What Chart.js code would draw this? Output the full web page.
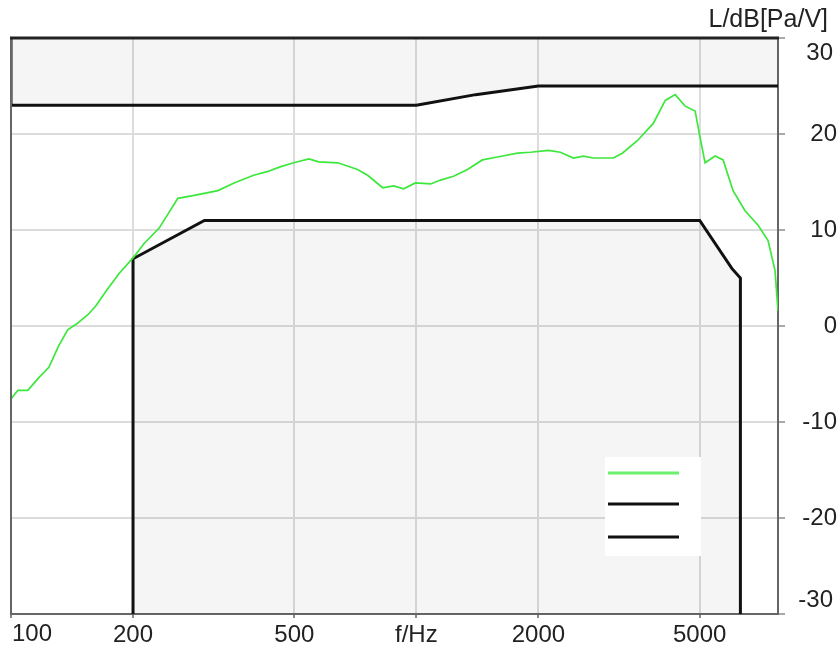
<!DOCTYPE html>
<html>
<head>
<meta charset="utf-8">
<script src="https://cdn.jsdelivr.net/npm/chart.js@4"></script>
<style>
  html, body { margin: 0; padding: 0; background: #fff; }
</style>
</head>
<body>
<canvas id="chart" width="837" height="653"></canvas>
<script>
// axis ticks
var freqTicks = [100, 200, 500, 1000, 2000, 5000];
var freqLabels = ['100', '200', '500', 'f/Hz', '2000', '5000'];
var levelTicks = [-30, -20, -10, 0, 10, 20, 30];

// measured response (green)
var respFreq = [100, 104, 110, 117, 124, 131, 138, 145, 155, 162, 172, 185, 201, 213, 232, 258, 283, 324, 355, 397,
  430, 463, 498, 543, 574, 640, 716, 758, 826, 879, 930, 995, 1084, 1147, 1235, 1337, 1455, 1585, 1775, 1911,
  2117, 2266, 2440, 2582, 2733, 3062, 3222, 3508, 3841, 4112, 4349, 4603, 4872, 5012, 5155, 5457, 5711, 6043,
  6468, 6966, 7372, 7668, 7800];
var respLevel = [-7.6, -6.7, -6.7, -5.4, -4.3, -2.1, -0.4, 0.2, 1.2, 2.1, 3.7, 5.5, 7.2, 8.6, 10.2, 13.3, 13.6, 14.1, 14.9, 15.7,
  16.1, 16.6, 17.0, 17.4, 17.1, 17.0, 16.3, 15.7, 14.4, 14.6, 14.3, 14.9, 14.8, 15.2, 15.6, 16.3, 17.3, 17.6, 18.0, 18.1,
  18.3, 18.1, 17.5, 17.7, 17.5, 17.5, 18.0, 19.3, 21.1, 23.5, 24.1, 22.9, 22.4, 19.6, 17.0, 17.7, 17.3, 14.1,
  12.0, 10.5, 8.9, 5.8, 1.6];

// tolerance limits
var upperFreq = [100, 100, 1000, 1400, 2000, 7800];
var upperLevel = [30, 23, 23, 24.1, 25, 25];
var lowerFreq = [200, 200, 300, 5000, 6000, 6300, 6300];
var lowerLevel = [-30, 7, 11, 11, 6, 5, -30];

function pts(xs, ys) {
  return xs.map(function (x, i) { return { x: x, y: ys[i] }; });
}

var FONT = 'Arial, "Liberation Sans", sans-serif';
var GREEN = '#3be83b';

var extras = {
  id: 'extras',
  afterDatasetsDraw: function (chart) {
    var ctx = chart.ctx, a = chart.chartArea;
    ctx.save();
    ctx.strokeStyle = '#666';
    ctx.lineWidth = 2;
    ctx.beginPath();
    ctx.moveTo(a.left, a.bottom);
    ctx.lineTo(a.left, a.top);
    ctx.stroke();
    ctx.strokeStyle = '#222';
    ctx.lineWidth = 3;
    ctx.beginPath();
    ctx.moveTo(a.left - 1, a.top);
    ctx.lineTo(a.right + 1, a.top);
    ctx.stroke();

    // legend box (lines only)
    var bx = a.left + 594, by = a.top + 419;
    ctx.fillStyle = '#fff';
    ctx.fillRect(bx, by, 96, 99);
    var cols = chart.data.datasets.map(function (d) { return d.borderColor; });
    var ly = [16, 47, 80];
    for (var i = 0; i < 3; i++) {
      ctx.strokeStyle = i === 0 ? '#6cf06c' : cols[i];
      ctx.lineWidth = 3;
      ctx.beginPath();
      ctx.moveTo(bx + 3, by + ly[i]);
      ctx.lineTo(bx + 74, by + ly[i]);
      ctx.stroke();
    }
    ctx.restore();
  },
  afterDraw: function (chart) {
    var ctx = chart.ctx, a = chart.chartArea;
    var ys = chart.scales.y;
    ctx.save();
    ctx.fillStyle = '#222';
    ctx.font = '24px ' + FONT;
    ctx.textBaseline = 'middle';
    ctx.textAlign = 'right';
    ctx.fillText('30', 833, ys.getPixelForValue(30) + 15);
    ctx.fillText('-30', 833, ys.getPixelForValue(-30) - 14);
    ctx.textAlign = 'left';
    ctx.fillText('100', a.left + 1, 634);
    ctx.font = '25px ' + FONT;
    ctx.textAlign = 'right';
    ctx.fillText('L/dB[Pa/V]', 828, 20);
    ctx.restore();
  }
};

var chart = new Chart('chart', {
  type: 'line',
  plugins: [extras],
  data: {
    datasets: [
      {
        data: pts(respFreq, respLevel),
        borderColor: GREEN,
        borderWidth: 1.7,
        pointRadius: 0,
        fill: false
      },
      {
        data: pts(upperFreq, upperLevel),
        borderColor: '#111',
        borderWidth: 3,
        pointRadius: 0,
        backgroundColor: 'rgba(0,0,0,0.04)',
        fill: 'end'
      },
      {
        data: pts(lowerFreq, lowerLevel),
        borderColor: '#111',
        borderWidth: 3,
        pointRadius: 0,
        backgroundColor: 'rgba(0,0,0,0.04)',
        fill: 'start'
      }
    ]
  },
  options: {
    responsive: false,
    animation: false,
    layout: { padding: { left: 11, top: 38, right: 0, bottom: 0 } },
    plugins: {
      legend: { display: false },
      tooltip: { enabled: false }
    },
    scales: {
      x: {
        type: 'logarithmic',
        min: 100,
        max: 7800,
        afterBuildTicks: function (s) {
          s.ticks = freqTicks.map(function (v) { return { value: v }; });
        },
        afterFit: function (s) { s.height = 39; },
        grid: { color: '#dcdcdc', lineWidth: 2, tickLength: 4, tickColor: '#888' },
        border: { color: '#666', width: 2 },
        ticks: {
          autoSkip: false,
          maxRotation: 0,
          padding: 3,
          color: '#222',
          font: { family: FONT, size: 24 },
          callback: function (v) {
            var i = freqTicks.indexOf(v);
            return i <= 0 ? '' : freqLabels[i];
          }
        }
      },
      y: {
        position: 'right',
        min: -30,
        max: 30,
        afterBuildTicks: function (s) {
          s.ticks = levelTicks.map(function (v) { return { value: v }; });
        },
        afterFit: function (s) { s.width = 59; },
        grid: { color: '#dcdcdc', lineWidth: 2, tickLength: 7, tickColor: '#aaa' },
        border: { color: '#666', width: 2 },
        ticks: {
          crossAlign: 'far',
          padding: 13,
          color: '#222',
          font: { family: FONT, size: 24 },
          callback: function (v) {
            return (v === 30 || v === -30) ? '' : String(v);
          }
        }
      }
    }
  }
});
</script>
</body>
</html>
